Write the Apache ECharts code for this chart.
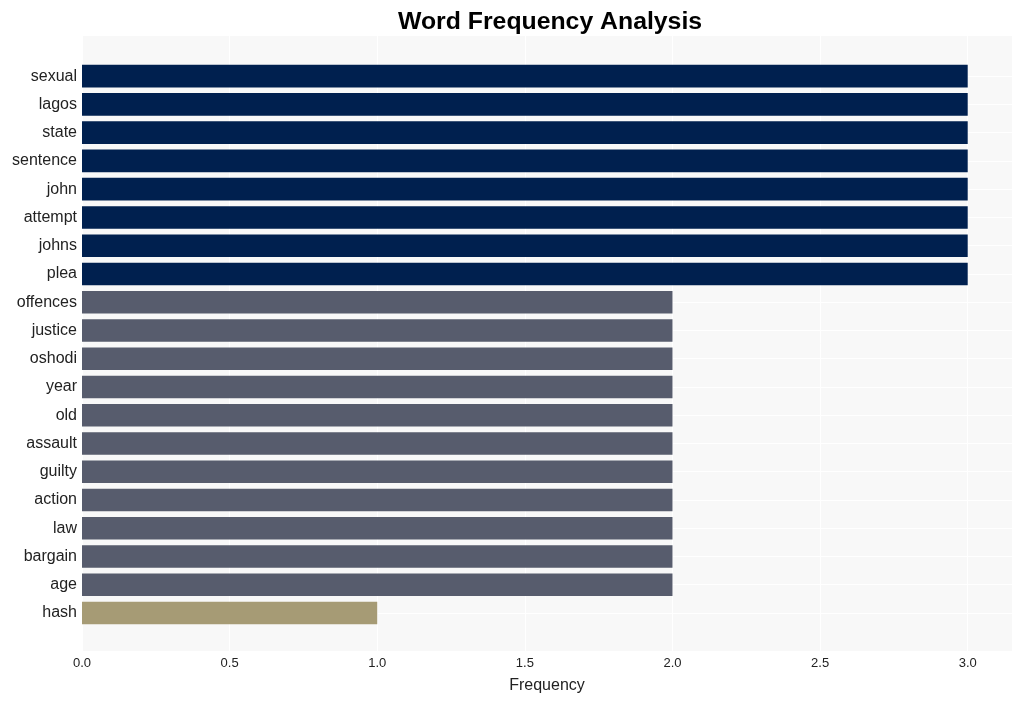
<!DOCTYPE html>
<html>
<head>
<meta charset="utf-8">
<script src="https://cdn.jsdelivr.net/npm/echarts@6/dist/echarts.min.js"></script>
<style>html,body{margin:0;padding:0;background:#fff}#c{width:1022px;height:701px}</style>
</head>
<body>
<div id="c"></div>
<script>
var words = ["sexual","lagos","state","sentence","john","attempt","johns","plea","offences","justice","oshodi","year","old","assault","guilty","action","law","bargain","age","hash"];
var counts = [3,3,3,3,3,3,3,3,2,2,2,2,2,2,2,2,2,2,2,1];
var xTicks = [0,0.5,1,1.5,2,2.5,3];
var colorByValue = {3:"#00204f", 2:"#575c6d", 1:"#a69b75"};

var chart = echarts.init(document.getElementById('c'));
var font = "'Liberation Sans', Arial, Helvetica, sans-serif";
chart.setOption({
  backgroundColor: '#ffffff',
  animation: false,
  title: {
    text: 'Word Frequency Analysis',
    left: 393, top: 5,
    textStyle: {fontFamily: font, fontSize: 24.8, fontWeight: 'bold', color: '#000'}
  },
  grid: [
    {left: 82, right: 10, top: 36, bottom: 50, show: true, backgroundColor: '#f8f8f8', borderWidth: 0},
    {left: 82, right: 10, top: 62, height: 565.2, show: false},
    {left: 82, right: 10, top: 76, height: 537, show: false}
  ],
  xAxis: [
    {gridIndex: 0, type: 'value', min: 0, max: 3.15, interval: 0.5,
     axisLine: {show: false}, axisTick: {show: false},
     axisLabel: {fontFamily: font, fontSize: 13, color: '#222', margin: 6,
       formatter: function (v) { return xTicks.indexOf(v) >= 0 ? v.toFixed(1) : ''; }},
     splitLine: {show: true, lineStyle: {color: '#ffffff', width: 1}},
     name: 'Frequency', nameLocation: 'middle', nameGap: 27,
     nameTextStyle: {fontFamily: font, fontSize: 16, color: '#222'}},
    {gridIndex: 1, type: 'value', min: 0, max: 3.15, show: false},
    {gridIndex: 2, type: 'value', min: 0, max: 3.15, show: false}
  ],
  yAxis: [
    {gridIndex: 0, type: 'value', min: 0, max: 1, show: false},
    {gridIndex: 1, type: 'category', data: words, inverse: true,
     axisLine: {show: false}, axisTick: {show: false}, splitLine: {show: false},
     axisLabel: {fontFamily: font, fontSize: 16, color: '#222', margin: 5}},
    {gridIndex: 2, type: 'value', min: 0, max: 19, interval: 1, inverse: true,
     axisLine: {show: false}, axisTick: {show: false}, axisLabel: {show: false},
     splitLine: {show: true, lineStyle: {color: '#ffffff', width: 1}}}
  ],
  series: [{
    type: 'bar', xAxisIndex: 1, yAxisIndex: 1,
    data: counts.map(function (v) { return {value: v, itemStyle: {color: colorByValue[v]}}; }),
    barCategoryGap: '20%'
  }]
});
</script>
</body>
</html>
